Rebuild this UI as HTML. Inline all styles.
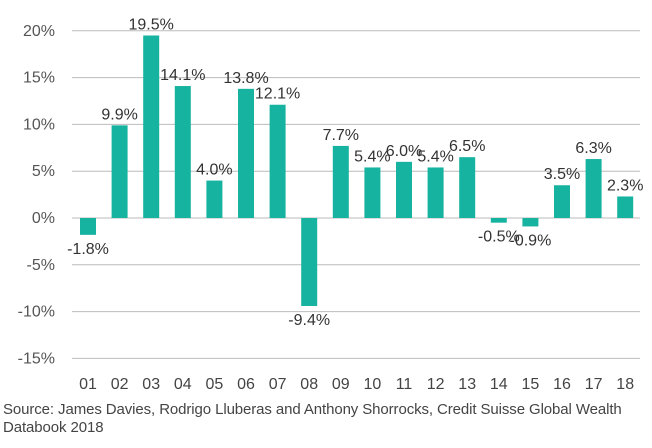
<!DOCTYPE html>
<html><head><meta charset="utf-8"><style>
body{margin:0;background:#fff;width:652px;height:443px;overflow:hidden;font-family:"Liberation Sans",sans-serif}
</style></head><body>
<svg width="652" height="443" id="c"></svg>
<div style="position:absolute;left:3px;top:401px;font-size:15px;color:#444;line-height:18px;letter-spacing:-0.1px">Source: James Davies, Rodrigo Lluberas and Anthony Shorrocks, Credit Suisse Global Wealth<br>Databook 2018</div>
<script>
const categories=["01","02","03","04","05","06","07","08","09","10","11","12","13","14","15","16","17","18"];
const values=[-1.8,9.9,19.5,14.1,4.0,13.8,12.1,-9.4,7.7,5.4,6.0,5.4,6.5,-0.5,-0.9,3.5,6.3,2.3];
const ticks=[20,15,10,5,0,-5,-10,-15];
const NS="http://www.w3.org/2000/svg",svg=document.getElementById('c');
const y=v=>218-v*9.36, x=i=>88+i*31.6;
function mk(t,a,txt){const e=document.createElementNS(NS,t);for(const k in a)e.setAttribute(k,a[k]);if(txt!=null)e.textContent=txt;svg.appendChild(e);return e;}
ticks.forEach(t=>{
 const l=mk('line',{x1:72,x2:640,y1:y(t),y2:y(t),stroke:'#bbb','stroke-width':1});
 
 
 const tx=mk('text',{x:55,y:y(t)+5,'text-anchor':'end','font-size':16,fill:'#555'},t+'%');
 
 
});
values.forEach((v,i)=>{
 const top=Math.min(y(v),y(0)),h=Math.abs(y(v)-y(0));
 const r=mk('rect',{x:x(i)-8,y:top,width:16,height:h,fill:'#17b3a1'});
 
 
 const ly=v>=0?y(v)-6:y(v)+19;
 const t=mk('text',{x:x(i),y:ly,'text-anchor':'middle','font-size':16,fill:'#333'},v.toFixed(1)+'%');
 
 
 const c=mk('text',{x:x(i),y:389,'text-anchor':'middle','font-size':16,fill:'#444'},categories[i]);
 
 
});
</script>
</body></html>
